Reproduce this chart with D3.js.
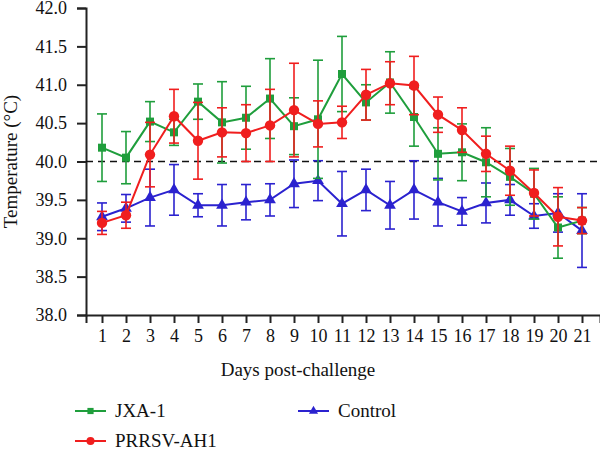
<!DOCTYPE html>
<html>
<head>
<meta charset="utf-8">
<script src="https://cdn.jsdelivr.net/npm/d3@7"></script>
<style>
  body { margin: 0; background: #fff; }
  svg, svg text { font-family: "Liberation Serif", "Times New Roman", Times, "DejaVu Serif", serif; }
</style>
</head>
<body>
<div id="chart"></div>
<script>
// days post-challenge
const days = d3.range(1, 22);

// mean temperature and error (SD) per group
const jxaMean = [40.18, 40.05, 40.52, 40.38, 40.78, 40.51, 40.57, 40.82, 40.46, 40.55, 41.14,
                 40.77, 41.03, 40.58, 40.10, 40.12, 39.99, 39.80, 39.58, 39.14, 39.23];
const jxaErr  = [0.44, 0.34, 0.26, 0.17, 0.23, 0.53, 0.41, 0.52, 0.37, 0.77, 0.49,
                 0.23, 0.40, 0.38, 0.34, 0.37, 0.45, 0.37, 0.33, 0.40, 0.17];

const ah1Mean = [39.20, 39.30, 40.09, 40.59, 40.27, 40.38, 40.37, 40.47, 40.67, 40.49, 40.51,
                 40.87, 41.02, 40.99, 40.61, 40.41, 40.10, 39.88, 39.59, 39.28, 39.23];
const ah1Err  = [0.15, 0.17, 0.42, 0.35, 0.50, 0.32, 0.37, 0.47, 0.61, 0.30, 0.21,
                 0.33, 0.28, 0.38, 0.23, 0.29, 0.23, 0.32, 0.30, 0.38, 0.17];

const ctlMean = [39.28, 39.39, 39.53, 39.63, 39.43, 39.43, 39.47, 39.50, 39.71, 39.75, 39.45,
                 39.63, 39.43, 39.63, 39.47, 39.35, 39.46, 39.50, 39.29, 39.33, 39.10];
const ctlErr  = [0.18, 0.18, 0.37, 0.33, 0.15, 0.27, 0.23, 0.21, 0.31, 0.26, 0.42,
                 0.27, 0.31, 0.38, 0.31, 0.18, 0.26, 0.20, 0.16, 0.25, 0.48];

const yTicks = [38.0, 38.5, 39.0, 39.5, 40.0, 40.5, 41.0, 41.5, 42.0];

const series = [
  {name: "Control",   mean: ctlMean, err: ctlErr, color: "#2b22cf", shape: d3.symbolTriangle, size: 60},
  {name: "JXA-1",     mean: jxaMean, err: jxaErr, color: "#1f9e3c", shape: d3.symbolSquare,   size: 64},
  {name: "PRRSV-AH1", mean: ah1Mean, err: ah1Err, color: "#f01e1e", shape: d3.symbolCircle,   size: 85}
];

const serif = "'Liberation Serif', 'Times New Roman', Times, 'DejaVu Serif', serif";
const width = 600, height = 449;
const margins = {top: 8, right: 0, bottom: 134, left: 86};

const svg = d3.select("#chart").append("svg")
    .attr("width", width).attr("height", height)
    .attr("viewBox", [0, 0, width, height])
    .attr("font-family", serif);

// day 1 sits 16px in from the axis, 24px per day
const xScale = d3.scaleLinear()
    .domain([1 - 16/24, 1 - 16/24 + (width - margins.left) / 24])
    .range([margins.left, width - margins.right]);

const yScale = d3.scaleLinear()
    .domain([38, 42])
    .range([height - margins.bottom, margins.top]);

// axes
const xGroup = svg.append("g")
    .attr("transform", `translate(0,${height - margins.bottom})`)
    .call(d3.axisBottom(xScale).tickValues(days).tickSizeOuter(0).tickSize(8).tickPadding(3).tickFormat(d3.format("d")));

const yGroup = svg.append("g")
    .attr("transform", `translate(${margins.left},0)`)
    .call(d3.axisLeft(yScale).tickValues(yTicks).tickSizeOuter(0).tickSize(9).tickPadding(10).tickFormat(d3.format(".1f")));

[xGroup, yGroup].forEach(g => {
  g.attr("font-family", serif).attr("font-size", 18);
  g.select(".domain").attr("stroke", "#222").attr("stroke-width", 2);
  g.selectAll(".tick line").attr("stroke", "#222").attr("stroke-width", 2);
  g.selectAll(".tick text").attr("fill", "#111");
});
xGroup.selectAll(".tick text").attr("dy", "0.9em");

// reference line at 40 °C
svg.append("line")
    .attr("x1", margins.left).attr("x2", width)
    .attr("y1", yScale(40)).attr("y2", yScale(40))
    .attr("stroke", "#111").attr("stroke-width", 1.6)
    .attr("stroke-dasharray", "7,5");

// series: error bars, line, markers
const line = d3.line().x((d, i) => xScale(days[i])).y(d => yScale(d));
const cap = 5;

series.forEach(s => {
  const g = svg.append("g");
  const eb = g.selectAll(".eb").data(s.mean).enter().append("g");
  eb.append("line")
    .attr("x1", (d, i) => xScale(days[i])).attr("x2", (d, i) => xScale(days[i]))
    .attr("y1", (d, i) => yScale(d + s.err[i])).attr("y2", (d, i) => yScale(d - s.err[i]));
  eb.append("line")
    .attr("x1", (d, i) => xScale(days[i]) - cap).attr("x2", (d, i) => xScale(days[i]) + cap)
    .attr("y1", (d, i) => yScale(d + s.err[i])).attr("y2", (d, i) => yScale(d + s.err[i]));
  eb.append("line")
    .attr("x1", (d, i) => xScale(days[i]) - cap).attr("x2", (d, i) => xScale(days[i]) + cap)
    .attr("y1", (d, i) => yScale(d - s.err[i])).attr("y2", (d, i) => yScale(d - s.err[i]));
  eb.selectAll("line").attr("stroke", s.color).attr("stroke-width", 1.6);

  g.append("path").datum(s.mean)
    .attr("d", line)
    .attr("fill", "none").attr("stroke", s.color).attr("stroke-width", 2);

  g.selectAll(".pt").data(s.mean).enter().append("path")
    .attr("transform", (d, i) => `translate(${xScale(days[i])},${yScale(d)})`)
    .attr("d", d3.symbol().type(s.shape).size(s.size))
    .attr("fill", s.color);
});

// axis titles
svg.append("text")
    .attr("x", 298).attr("y", 376)
    .attr("text-anchor", "middle")
    .attr("font-size", 19).attr("fill", "#111")
    .text("Days post-challenge");

svg.append("text")
    .attr("transform", `translate(17,${yScale(40)}) rotate(-90)`)
    .attr("text-anchor", "middle")
    .attr("font-size", 19).attr("fill", "#111")
    .text("Temperature (°C)");

// legend
const legendItems = [
  {s: series[1], x: 75,  y: 411},
  {s: series[0], x: 298, y: 411},
  {s: series[2], x: 75,  y: 441}
];
const lg = svg.append("g").selectAll("g").data(legendItems).enter().append("g")
    .attr("transform", d => `translate(${d.x},${d.y})`);
lg.append("line").attr("x1", 0).attr("x2", 31).attr("y1", 0).attr("y2", 0)
    .attr("stroke", d => d.s.color).attr("stroke-width", 2);
lg.append("path").attr("transform", "translate(15.5,0)")
    .attr("d", d => d3.symbol().type(d.s.shape).size(d.s.size * 0.6)())
    .attr("fill", d => d.s.color);
lg.append("text").attr("x", 40).attr("y", 6)
    .attr("font-size", 19).attr("fill", "#111")
    .text(d => d.s.name);
</script>
</body>
</html>
